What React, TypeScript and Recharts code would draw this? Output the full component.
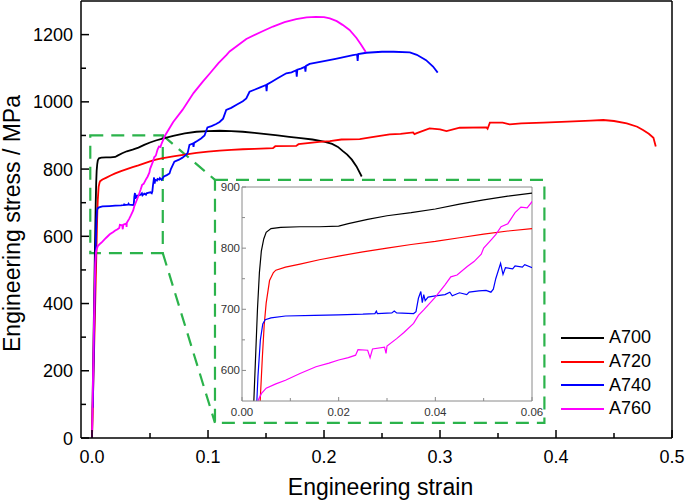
import { Line, LineChart, ReferenceArea, ReferenceLine, XAxis, YAxis } from 'recharts';

// [engineering strain, engineering stress (MPa)]
const a700: [number, number][] = [
  [0, 0], [0.0024, 540], [0.0028, 620], [0.0032, 700], [0.0036, 760], [0.004, 795], [0.0045, 815],
  [0.005, 826], [0.006, 832], [0.008, 834], [0.012, 835], [0.016, 835], [0.02, 836], [0.022, 840],
  [0.026, 847], [0.03, 853], [0.035, 858], [0.04, 864], [0.045, 872], [0.05, 879], [0.055, 885],
  [0.06, 890], [0.07, 899], [0.08, 906], [0.09, 911], [0.1, 913], [0.11, 914], [0.12, 913], [0.13, 911],
  [0.14, 908], [0.15, 904], [0.16, 900], [0.17, 896], [0.18, 892], [0.19, 888], [0.2, 882], [0.207, 875],
  [0.212, 866], [0.216, 854], [0.22, 843], [0.224, 828], [0.228, 808], [0.2325, 778],
];

const a720: [number, number][] = [
  [0, 0], [0.0037, 540], [0.0042, 620], [0.0046, 675], [0.005, 710], [0.0057, 747], [0.0065, 760],
  [0.007, 764], [0.009, 769], [0.012, 774], [0.016, 781], [0.02, 787], [0.025, 794], [0.03, 800],
  [0.035, 806], [0.04, 811], [0.045, 817], [0.05, 823], [0.055, 828], [0.06, 832], [0.07, 838],
  [0.08, 843], [0.09, 848], [0.1, 852], [0.11, 855], [0.12, 857], [0.13, 859], [0.14, 860], [0.156, 862],
  [0.158, 868], [0.176, 869], [0.178, 874], [0.196, 881], [0.205, 883], [0.215, 888], [0.2308, 889],
  [0.24, 894], [0.2566, 903], [0.266, 905], [0.2768, 909], [0.278, 904], [0.28, 907], [0.291, 921],
  [0.3, 918], [0.3056, 913], [0.317, 923], [0.34, 924], [0.341, 920], [0.343, 938], [0.354, 938],
  [0.36, 933], [0.37, 936], [0.389, 938], [0.41, 941], [0.43, 944], [0.4407, 946], [0.45, 943],
  [0.461, 936], [0.47, 926], [0.475, 916], [0.48, 905], [0.484, 893], [0.486, 867],
];

const a740: [number, number][] = [
  [0.0007, 90], [0.0015, 250], [0.0025, 450], [0.0033, 590], [0.0038, 650], [0.0043, 676], [0.0048, 683],
  [0.006, 686], [0.009, 689], [0.015, 690], [0.02, 691], [0.025, 692], [0.0275, 693], [0.0278, 697],
  [0.028, 693], [0.031, 694], [0.0315, 697], [0.032, 694], [0.0355, 693], [0.036, 696], [0.0365, 718],
  [0.037, 729], [0.0373, 711], [0.0376, 724], [0.0379, 714], [0.0385, 720], [0.04, 722], [0.042, 724],
  [0.043, 728], [0.0435, 722], [0.045, 727], [0.0465, 724], [0.047, 728], [0.049, 730], [0.0505, 731],
  [0.0515, 728], [0.052, 733], [0.0525, 750], [0.0535, 775], [0.054, 757], [0.0545, 768], [0.056, 766],
  [0.0565, 771], [0.058, 769], [0.0585, 773], [0.06, 768], [0.062, 778], [0.0645, 782], [0.0668, 787],
  [0.068, 800], [0.071, 822], [0.075, 828], [0.078, 834], [0.081, 842], [0.0825, 848], [0.084, 872],
  [0.087, 876], [0.0875, 866], [0.088, 878], [0.091, 884], [0.094, 891], [0.097, 900], [0.0995, 924],
  [0.103, 928], [0.107, 934], [0.11, 940], [0.113, 950], [0.1157, 976], [0.12, 982], [0.125, 992],
  [0.13, 1002], [0.133, 1010], [0.1358, 1030], [0.14, 1036], [0.145, 1043], [0.15, 1050], [0.1505, 1032],
  [0.151, 1052], [0.155, 1060], [0.16, 1070], [0.1675, 1085], [0.172, 1088], [0.176, 1094], [0.1765, 1075],
  [0.177, 1096], [0.18, 1099], [0.1835, 1104], [0.184, 1090], [0.1845, 1107], [0.1876, 1113], [0.2, 1121],
  [0.21, 1128], [0.225, 1139], [0.2285, 1141], [0.229, 1122], [0.2295, 1142], [0.2365, 1146], [0.25, 1149],
  [0.26, 1149], [0.274, 1147], [0.28, 1140], [0.288, 1124], [0.294, 1105], [0.298, 1087],
];

const a760: [number, number][] = [
  [0, 0], [0.0012, 250], [0.002, 400], [0.0028, 520], [0.0034, 552], [0.004, 562], [0.005, 571],
  [0.007, 578], [0.009, 584], [0.012, 595], [0.0153, 606], [0.018, 612], [0.02, 617], [0.022, 621],
  [0.0235, 625], [0.024, 634], [0.026, 633], [0.0265, 621], [0.027, 635], [0.0295, 638], [0.0298, 628],
  [0.03, 640], [0.032, 652], [0.0335, 662], [0.0355, 677], [0.0365, 690], [0.0376, 699], [0.04, 720],
  [0.042, 740], [0.0432, 753], [0.0445, 756], [0.0466, 770], [0.048, 778], [0.0495, 790], [0.05, 800],
  [0.0515, 813], [0.0525, 822], [0.0536, 835], [0.055, 840], [0.0565, 858], [0.0577, 867], [0.059, 866],
  [0.06, 876], [0.063, 900], [0.07, 940], [0.078, 976], [0.0875, 1026], [0.0955, 1060], [0.1017, 1085],
  [0.109, 1115], [0.116, 1140], [0.1186, 1150], [0.133, 1187], [0.147, 1210], [0.156, 1224],
  [0.166, 1237], [0.176, 1246], [0.185, 1251], [0.193, 1253], [0.2, 1252], [0.205, 1248], [0.211, 1240],
  [0.216, 1229], [0.222, 1214], [0.228, 1190], [0.232, 1170], [0.236, 1148],
];

const series = [
  { name: 'A700', color: '#000000', points: a700 },
  { name: 'A720', color: '#ff0000', points: a720 },
  { name: 'A740', color: '#0000ff', points: a740 },
  { name: 'A760', color: '#ff00ff', points: a760 },
];

const xMajor = [0, 0.1, 0.2, 0.3, 0.4, 0.5];
const xMinor = [0.05, 0.15, 0.25, 0.35, 0.45];
const yMajor = [0, 200, 400, 600, 800, 1000, 1200];
const yMinor = [100, 300, 500, 700, 900, 1100];

const insetXMajor = [0, 0.02, 0.04, 0.06];
const insetXMinor = [0.01, 0.03, 0.05];
const insetYMajor = [600, 700, 800, 900];
const insetYMinor = [650, 750, 850];

const FONT = 'Arial, "Liberation Sans", sans-serif';
const GREEN = '#2bb34b';
const INSET_GREY = '#8a8a8a';

const sorted = (a: number[], b: number[]) => [...a, ...b].sort((p, q) => p - q);
const isMajor = (v: number, list: number[]) => list.some((m) => Math.abs(m - v) < 1e-9);
const rows = (pts: [number, number][]) => pts.map(([strain, stress]) => ({ strain, stress }));

const MainXTick = (props: any) => {
  const { x, y, payload } = props;
  const major = isMajor(payload.value, xMajor);
  return (
    <g>
      <line x1={x} x2={x} y1={y} y2={y - (major ? 8 : 5)} stroke="#000" strokeWidth={1.5} />
      {major && (
        <text x={x} y={y + 25} textAnchor="middle" fontSize={18} fontFamily={FONT} fill="#000">
          {payload.value.toFixed(1)}
        </text>
      )}
    </g>
  );
};

const MainYTick = (props: any) => {
  const { x, y, payload } = props;
  const major = isMajor(payload.value, yMajor);
  return (
    <g>
      <line x1={x} x2={x + (major ? 8 : 5)} y1={y} y2={y} stroke="#000" strokeWidth={1.5} />
      {major && (
        <text x={x - 8} y={y + 6.5} textAnchor="end" fontSize={18} fontFamily={FONT} fill="#000">
          {payload.value}
        </text>
      )}
    </g>
  );
};

const InsetXTick = (props: any) => {
  const { x, y, payload } = props;
  const major = isMajor(payload.value, insetXMajor);
  return (
    <g>
      <line x1={x} x2={x} y1={y} y2={y - (major ? 4 : 3)} stroke={INSET_GREY} strokeWidth={1} />
      {major && (
        <text x={x} y={y + 15} textAnchor="middle" fontSize={11.5} fontFamily={FONT} fill="#333">
          {payload.value.toFixed(2)}
        </text>
      )}
    </g>
  );
};

const InsetYTick = (props: any) => {
  const { x, y, payload } = props;
  const major = isMajor(payload.value, insetYMajor);
  return (
    <g>
      <line x1={x} x2={x + (major ? 4 : 3)} y1={y} y2={y} stroke={INSET_GREY} strokeWidth={1} />
      {major && (
        <text x={x - 2} y={y + 4} textAnchor="end" fontSize={11.5} fontFamily={FONT} fill="#333">
          {payload.value}
        </text>
      )}
    </g>
  );
};

const YTitle = (props: any) => {
  const vb = props.viewBox;
  const cx = 12;
  const cy = vb.y + vb.height / 2 + 4;
  return (
    <text
      x={cx}
      y={cy}
      transform={`rotate(-90, ${cx}, ${cy})`}
      textAnchor="middle"
      dominantBaseline="central"
      fontSize={23}
      fontFamily={FONT}
      fill="#000"
    >
      Engineering stress / MPa
    </text>
  );
};

const XTitle = (props: any) => {
  const vb = props.viewBox;
  return (
    <text x={vb.x + vb.width / 2 + 4} y={vb.y + vb.height - 7} textAnchor="middle" fontSize={23} fontFamily={FONT} fill="#000">
      Engineering strain
    </text>
  );
};

const dashed = { stroke: GREEN, strokeWidth: 2.2, strokeDasharray: '13 8' };

export default function App() {
  return (
    <div style={{ position: 'absolute', left: 0, top: 0, width: 685, height: 502, background: '#fff' }}>
      <LineChart width={685} height={502} margin={{ top: 1, right: 13, bottom: 0, left: 0 }}>
        <XAxis
          type="number"
          dataKey="strain"
          domain={[-0.0095, 0.5]}
          allowDataOverflow
          ticks={sorted(xMajor, xMinor)}
          interval={0}
          height={64}
          tickSize={0}
          tickMargin={0}
          tickLine={false}
          tick={MainXTick}
          axisLine={{ stroke: '#000', strokeWidth: 1.5 }}
          label={XTitle}
        />
        <YAxis
          type="number"
          dataKey="stress"
          domain={[0, 1300]}
          allowDataOverflow
          ticks={sorted(yMajor, yMinor)}
          interval={0}
          width={81}
          tickSize={0}
          tickMargin={0}
          tickLine={false}
          tick={MainYTick}
          axisLine={{ stroke: '#000', strokeWidth: 1.5 }}
          label={YTitle}
        />
        <ReferenceLine y={1300} stroke="#000" strokeWidth={1.5} />
        <ReferenceLine x={0.5} stroke="#000" strokeWidth={1.5} />
        <ReferenceArea x1={-0.0015} x2={0.061} y1={550} y2={900} fill="none" fillOpacity={0} {...dashed} />
        <ReferenceArea x1={0.106} x2={0.39} y1={45} y2={768} fill="none" fillOpacity={0} {...dashed} />
        <ReferenceLine segment={[{ x: 0.061, y: 900 }, { x: 0.106, y: 768 }]} {...dashed} />
        <ReferenceLine segment={[{ x: 0.061, y: 550 }, { x: 0.106, y: 45 }]} {...dashed} />
        {series.map((s) => (
          <Line
            key={s.name}
            name={s.name}
            data={rows(s.points)}
            dataKey="stress"
            stroke={s.color}
            strokeWidth={1.8}
            dot={false}
            isAnimationActive={false}
          />
        ))}
      </LineChart>

      <div style={{ position: 'absolute', left: 215, top: 180 }}>
        <LineChart width={329} height={243} margin={{ top: 7, right: 12, bottom: 0, left: 0 }}>
          <XAxis
            type="number"
            dataKey="strain"
            domain={[0, 0.06]}
            allowDataOverflow
            ticks={sorted(insetXMajor, insetXMinor)}
            interval={0}
            height={22}
            tickSize={0}
            tickMargin={0}
            tickLine={false}
            tick={InsetXTick}
            axisLine={{ stroke: INSET_GREY, strokeWidth: 1 }}
          />
          <YAxis
            type="number"
            dataKey="stress"
            domain={[550, 900]}
            allowDataOverflow
            ticks={sorted(insetYMajor, insetYMinor)}
            interval={0}
            width={27}
            tickSize={0}
            tickMargin={0}
            tickLine={false}
            tick={InsetYTick}
            axisLine={{ stroke: INSET_GREY, strokeWidth: 1 }}
          />
          <ReferenceLine y={900} stroke={INSET_GREY} strokeWidth={1} />
          <ReferenceLine x={0.06} stroke={INSET_GREY} strokeWidth={1} />
          {series.map((s) => (
            <Line
              key={s.name}
              name={s.name}
              data={rows(s.points)}
              dataKey="stress"
              stroke={s.color}
              strokeWidth={1.2}
              dot={false}
              isAnimationActive={false}
            />
          ))}
        </LineChart>
      </div>

      <div style={{ position: 'absolute', left: 561, top: 326, fontFamily: FONT, fontSize: 18, color: '#000' }}>
        {series.map((s) => (
          <div key={s.name} style={{ display: 'flex', alignItems: 'center', height: 23.7 }}>
            <div style={{ width: 43, height: 2, background: s.color, marginRight: 5 }} />
            <span>{s.name}</span>
          </div>
        ))}
      </div>
    </div>
  );
}
